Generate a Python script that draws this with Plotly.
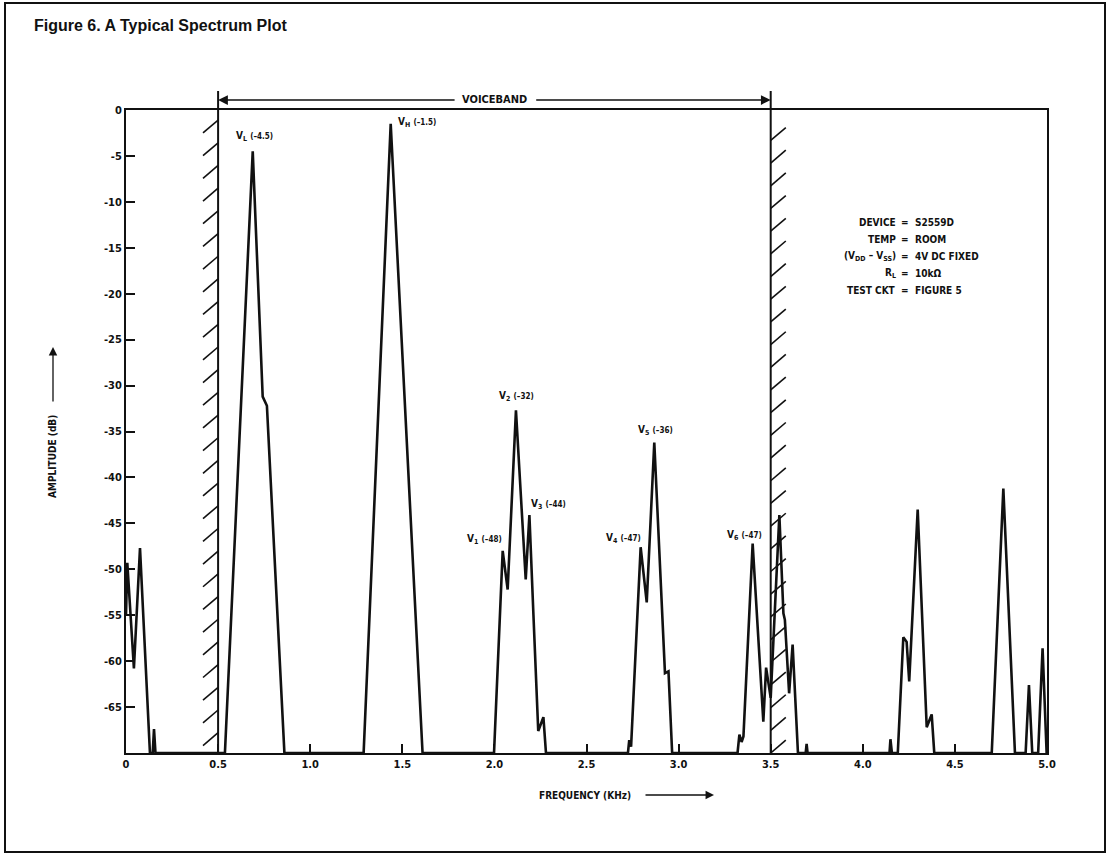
import plotly.graph_objects as go

# ---------------- data ----------------
freq_khz = [0.000, 0.007, 0.043, 0.076, 0.130, 0.145, 0.152, 0.160,
            0.537, 0.688, 0.742, 0.765, 0.860,
            1.290, 1.437, 1.610,
            1.998, 2.045, 2.072, 2.117, 2.170, 2.190, 2.212, 2.238, 2.266, 2.280,
            2.725, 2.732, 2.742, 2.794, 2.827, 2.868, 2.926, 2.945, 2.965,
            3.320, 3.330, 3.342, 3.352, 3.402, 3.460, 3.475, 3.500, 3.547, 3.569,
            3.577, 3.600, 3.619, 3.648, 3.690, 3.695, 3.700,
            4.145, 4.150, 4.158, 4.190, 4.220, 4.238, 4.252, 4.298, 4.347, 4.362,
            4.374, 4.388, 4.700, 4.763, 4.826, 4.884, 4.902, 4.920, 4.952, 4.976, 4.998]
amp_db = [-55.0, -49.3, -60.8, -47.7, -70.0, -70.0, -67.4, -70.0,
          -70.0, -4.5, -31.2, -32.2, -70.0,
          -70.0, -1.5, -70.0,
          -70.0, -48.0, -52.2, -32.7, -51.1, -44.1, -55.0, -67.6, -66.1, -70.0,
          -70.0, -68.6, -69.3, -47.6, -53.6, -36.2, -61.3, -61.1, -70.0,
          -70.0, -68.0, -68.8, -68.2, -47.2, -66.6, -60.7, -64.0, -44.1, -54.8,
          -55.5, -63.5, -58.2, -70.0, -70.0, -69.0, -70.0,
          -70.0, -68.5, -70.0, -70.0, -57.4, -57.9, -62.2, -43.5, -67.2, -66.5,
          -65.8, -70.0, -70.0, -41.2, -70.0, -70.0, -62.6, -70.0, -70.0, -58.6, -70.0]

x_tick_vals = [0, 0.5, 1.0, 1.5, 2.0, 2.5, 3.0, 3.5, 4.0, 4.5, 5.0]
x_tick_text = ["0", "0.5", "1.0", "1.5", "2.0", "2.5", "3.0", "3.5", "4.0", "4.5", "5.0"]
y_tick_vals = [0, -5, -10, -15, -20, -25, -30, -35, -40, -45, -50, -55, -60, -65]
y_tick_text = ["0", "-5", "-10", "-15", "-20", "-25", "-30", "-35", "-40", "-45", "-50", "-55", "-60", "-65"]

voiceband = [0.5, 3.5]

peak_names = ["L", "H", "1", "2", "3", "4", "5", "6"]
peak_values = ["-4.5", "-1.5", "-48", "-32", "-44", "-47", "-36", "-47"]
peak_label_x = [0.700, 1.466, 2.052, 2.120, 2.188, 2.807, 2.875, 3.464]
peak_label_y = [-2.9, -1.4, -46.8, -31.2, -43.0, -46.7, -34.9, -46.3]
peak_label_anchor = ["center", "left", "right", "center", "left", "right", "center", "right"]

info_keys = ["DEVICE", "TEMP", "(V<sub>DD</sub> – V<sub>SS</sub>)", "R<sub>L</sub>", "TEST CKT"]
info_vals = ["S2559D", "ROOM", "4V DC FIXED", "10kΩ", "FIGURE 5"]
info_y = [-12.2, -14.05, -15.9, -17.75, -19.6]

# ---------------- figure ----------------
W, H = 1109, 857
L, R, T, B = 126, 62, 110, 104
PW, PH = W - L - R, H - T - B

def px_to_paper_x(px):
    return (px - L) / PW

def px_to_paper_y(py):
    return (H - B - py) / PH

FONT = "Liberation Sans Narrow, DejaVu Sans Condensed, Liberation Sans, Arial"
BLACK = "#111111"

fig = go.Figure()

# hatch marks at the voiceband edges (decoration)
hx, hy = [], []
hatch_w = 0.082
hatch_rise = 1.4
step = 2.47
y0 = -2.5
while y0 >= -69.6:
    hx += [voiceband[0] - hatch_w, voiceband[0], None]
    hy += [y0, y0 + hatch_rise, None]
    y0 -= step
y0 = -70.0
while y0 + hatch_rise <= -0.5:
    hx += [voiceband[1], voiceband[1] + hatch_w, None]
    hy += [y0, y0 + hatch_rise, None]
    y0 += step
fig.add_trace(go.Scatter(x=hx, y=hy, mode="lines", line=dict(color=BLACK, width=1.6),
                         hoverinfo="skip", showlegend=False, cliponaxis=False))

fig.add_trace(go.Scatter(x=freq_khz, y=amp_db, mode="lines",
                         line=dict(color=BLACK, width=2.6),
                         showlegend=False, cliponaxis=False))

# voiceband boundary lines
for vb in voiceband:
    fig.add_shape(type="line", xref="x", yref="paper", x0=vb, x1=vb,
                  y0=0, y1=px_to_paper_y(91), line=dict(color=BLACK, width=2))

# outer figure border
fig.add_shape(type="rect", xref="paper", yref="paper",
              x0=px_to_paper_x(5), x1=px_to_paper_x(1105),
              y0=px_to_paper_y(852), y1=px_to_paper_y(3),
              line=dict(color=BLACK, width=2))

ann = []
# title
ann.append(dict(text="<b>Figure 6. A Typical Spectrum Plot</b>", xref="paper", yref="paper",
                x=px_to_paper_x(32), y=px_to_paper_y(26), xanchor="left", yanchor="middle",
                showarrow=False, font=dict(family="Liberation Sans, Arial", size=16, color=BLACK)))

# voiceband arrows and label
vb_y = px_to_paper_y(100)
ann.append(dict(text="", xref="x", yref="paper", x=voiceband[0], y=vb_y,
                ax=238, ay=0, axref="pixel", ayref="pixel", showarrow=True,
                arrowhead=2, arrowsize=1.3, arrowwidth=1.5, arrowcolor=BLACK))
ann.append(dict(text="", xref="x", yref="paper", x=voiceband[1], y=vb_y,
                ax=-236, ay=0, axref="pixel", ayref="pixel", showarrow=True,
                arrowhead=2, arrowsize=1.3, arrowwidth=1.5, arrowcolor=BLACK))
ann.append(dict(text="<b>VOICEBAND</b>", xref="paper", yref="paper",
                x=px_to_paper_x(494), y=vb_y, xanchor="center", yanchor="middle",
                showarrow=False, font=dict(family=FONT, size=11, color=BLACK)))

# axis titles with arrows
ann.append(dict(text="<b>AMPLITUDE (dB)</b>", xref="paper", yref="paper",
                x=px_to_paper_x(53), y=px_to_paper_y(457), textangle=-90,
                xanchor="center", yanchor="middle", showarrow=False,
                font=dict(family=FONT, size=10, color=BLACK)))
ann.append(dict(text="", xref="paper", yref="paper", x=px_to_paper_x(53), y=px_to_paper_y(347),
                ax=0, ay=56, showarrow=True, arrowhead=2, arrowsize=1.3, arrowwidth=1.3,
                arrowcolor=BLACK))
ann.append(dict(text="<b>FREQUENCY (KHz)</b>", xref="paper", yref="paper",
                x=px_to_paper_x(585), y=px_to_paper_y(795), xanchor="center", yanchor="middle",
                showarrow=False, font=dict(family=FONT, size=10, color=BLACK)))
ann.append(dict(text="", xref="paper", yref="paper", x=px_to_paper_x(714), y=px_to_paper_y(795),
                ax=-70, ay=0, showarrow=True, arrowhead=2, arrowsize=1.3, arrowwidth=1.3,
                arrowcolor=BLACK))

# peak labels
for name, val, lx, ly, anc in zip(peak_names, peak_values, peak_label_x, peak_label_y, peak_label_anchor):
    ann.append(dict(text=f"<b>V<sub>{name}</sub> <span style='font-size:8px'>({val.replace('-', '–')})</span></b>",
                    x=lx, y=ly, xref="x", yref="y", xanchor=anc, yanchor="middle",
                    showarrow=False, font=dict(family=FONT, size=10, color=BLACK)))

# info block
for k, v, yy in zip(info_keys, info_vals, info_y):
    ann.append(dict(text=f"<b>{k}</b>", x=4.191, y=yy, xref="x", yref="y", xanchor="right",
                    yanchor="middle", showarrow=False, font=dict(family=FONT, size=10, color=BLACK)))
    ann.append(dict(text="<b>=</b>", x=4.229, y=yy, xref="x", yref="y", xanchor="center",
                    yanchor="middle", showarrow=False, font=dict(family=FONT, size=10, color=BLACK)))
    ann.append(dict(text=f"<b>{v}</b>", x=4.273, y=yy, xref="x", yref="y", xanchor="left",
                    yanchor="middle", showarrow=False, font=dict(family=FONT, size=10, color=BLACK)))

fig.update_layout(
    width=W, height=H,
    margin=dict(l=L, r=R, t=T, b=B, pad=0),
    paper_bgcolor="white", plot_bgcolor="white",
    annotations=ann,
    showlegend=False,
    xaxis=dict(range=[0, 5], tickvals=x_tick_vals, ticktext=x_tick_text,
               showgrid=False, zeroline=False, showline=True, linecolor=BLACK, linewidth=2,
               mirror=True, ticks="inside", ticklen=9, tickwidth=1.6, tickcolor=BLACK,
               tickfont=dict(family=FONT, size=11, color=BLACK, weight="bold")),
    yaxis=dict(range=[-70, 0], tickvals=y_tick_vals, ticktext=y_tick_text,
               showgrid=False, zeroline=False, showline=True, linecolor=BLACK, linewidth=2,
               mirror=True, ticks="inside", ticklen=9, tickwidth=1.6, tickcolor=BLACK,
               tickfont=dict(family=FONT, size=11, color=BLACK, weight="bold")),
)

fig.write_html("out.html", config={"displayModeBar": False},
               post_script="document.body.style.margin='0px';")
